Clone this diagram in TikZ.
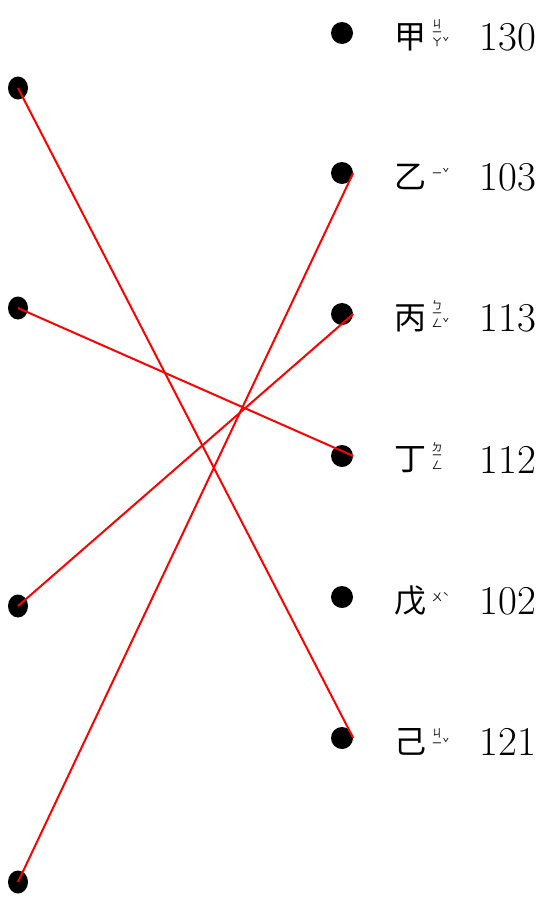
\documentclass[tikz,border=0pt]{standalone}
\usepackage{fontspec}
\newfontfamily\cjk{Noto Sans CJK TC}
\usetikzlibrary{shapes.geometric}
\begin{document}
\begin{tikzpicture}[x=1pt,y=-1pt,
  ldot/.style={ellipse,fill=black,minimum width=20pt,minimum height=23pt,inner sep=0pt},
  rdot/.style={circle,fill=black,minimum size=22pt,inner sep=0pt},
  hanzi/.style={inner sep=0pt,font=\cjk\fontsize{32}{34}\selectfont},
  zhuyin/.style={inner sep=0pt,align=center,font=\cjk\fontsize{11}{8}\selectfont},
  number/.style={inner sep=0pt,anchor=base,font=\fontsize{41}{44}\selectfont},
  link/.style={color = red, line width=2pt}]
\useasboundingbox (0,0) rectangle (542,900);
\def\xl{18}
\def\xr{342}

% left column
\foreach \y [count=\i] in {88,308,606,882}
{
    \node[ldot] (l\i) at (\xl,\y) {};
}

% right column with labels
\foreach \y/\hz/\zy/\num [count=\i] in {33/甲/{ㄐ\\ㄧ\\ㄚ\rlap{ˇ}}/130,
    173/乙/{ㄧ\rlap{ˇ}}/103,
    314/丙/{ㄅ\\ㄧ\\ㄥ\rlap{ˇ}}/113,
    456/丁/{ㄉ\\ㄧ\\ㄥ}/112,
    597/戊/{ㄨ\rlap{ˋ}}/102,
    738/己/{ㄐ\\ㄧ\rlap{ˇ}}/121}
{
    \node[rdot] (r\i) at (\xr,\y) {};
    \node[hanzi] (h\i) at (410,\y+4) {\hz};
    \node[zhuyin] (z\i) at (437,\y) {\zy};
    \node[number] (n\i) at (508,\y+17) {\num};
}

\draw[link] (l1.center) -- (r6.east);
\draw[link] (l2.center) -- (r4.east);
\draw[link] (l3.center) -- (r3.east);
\draw[link] (l4.center) -- (r2.east);

\end{tikzpicture}
\end{document}
